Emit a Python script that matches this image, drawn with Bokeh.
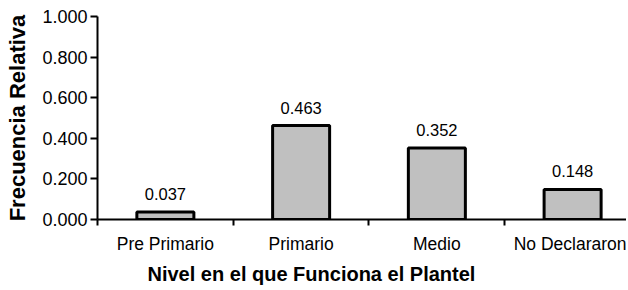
from bokeh.plotting import figure
from bokeh.models import FixedTicker, Title, ColumnDataSource, Range1d, NumeralTickFormatter
from bokeh.embed import file_html
from bokeh.resources import INLINE
from bokeh.core.properties import value

categories = ["Pre Primario", "Primario", "Medio", "No Declararon"]
values = [0.037, 0.463, 0.352, 0.148]
y_ticks = [0.0, 0.2, 0.4, 0.6, 0.8, 1.0]
y_title = "Frecuencia Relativa"
x_title = "Nivel en el que Funciona el Plantel"

FONT = "Liberation Sans"

x = [i + 0.5 for i in range(len(categories))]
labels = [f"{v:.3f}" for v in values]
src = ColumnDataSource(dict(x=x, top=values, label=labels))

p = figure(width=626, height=289,
           x_range=Range1d(0, 3.897), y_range=Range1d(0, 1.0),
           output_backend="svg", toolbar_location=None,
           min_border_left=97, min_border_right=0,
           min_border_top=16, min_border_bottom=70)

p.vbar(x="x", top="top", bottom=0, width=0.42, source=src,
       fill_color="#c0c0c0", line_color="black", line_width=3)

p.text(x="x", y="top", text="label", source=src,
       text_font=value(FONT), text_font_size="16.5px", text_color="black",
       text_align="center", text_baseline="bottom", y_offset=-12)

p.outline_line_color = None
p.xgrid.grid_line_color = None
p.ygrid.grid_line_color = None
p.background_fill_color = "white"
p.border_fill_color = "white"

# x axis
xa = p.xaxis[0]
xa.ticker = FixedTicker(ticks=x, minor_ticks=list(range(len(categories) + 1)))
xa.major_label_overrides = {xi: c for xi, c in zip(x, categories)}
xa.major_tick_out = 0
xa.major_tick_in = 0
xa.minor_tick_out = 6
xa.minor_tick_in = 0
xa.minor_tick_line_color = "black"
xa.minor_tick_line_width = 2
xa.axis_line_width = 2
xa.axis_line_color = "black"
xa.major_label_text_font = FONT
xa.major_label_text_font_size = "17.5px"
xa.major_label_text_color = "black"
xa.major_label_standoff = 8

# y axis
ya = p.yaxis[0]
ya.ticker = FixedTicker(ticks=y_ticks, minor_ticks=[])
ya.formatter = NumeralTickFormatter(format="0.000")
ya.major_tick_out = 7
ya.major_tick_in = 0
ya.major_tick_line_width = 2
ya.major_tick_line_color = "black"
ya.minor_tick_line_color = None
ya.axis_line_width = 2
ya.axis_line_color = "black"
ya.major_label_text_font = FONT
ya.major_label_text_font_size = "18px"
ya.major_label_text_color = "black"
ya.major_label_standoff = 3
ya.axis_label = y_title
ya.axis_label_text_font = FONT
ya.axis_label_text_font_size = "22px"
ya.axis_label_text_font_style = "bold"
ya.axis_label_text_color = "black"
ya.axis_label_standoff = 9

p.add_layout(Title(text=x_title, text_font=FONT, text_font_size="20px",
                   text_font_style="bold", text_color="black",
                   align="left", offset=50, standoff=8), "below")

open("out.html", "w").write(file_html(p, INLINE))
